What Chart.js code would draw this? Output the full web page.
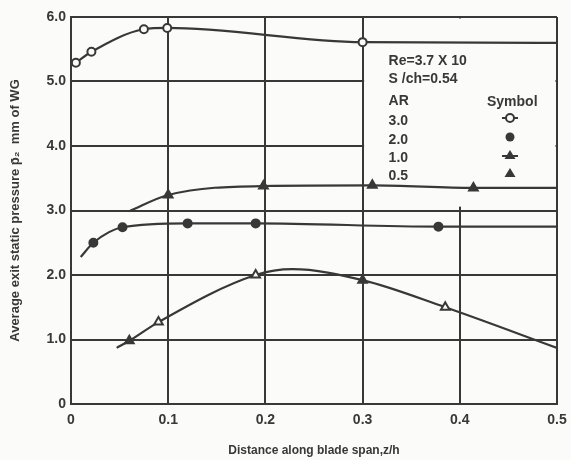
<!DOCTYPE html>
<html>
<head>
<meta charset="utf-8">
<script src="https://cdn.jsdelivr.net/npm/chart.js@4.4.0/dist/chart.umd.min.js"></script>
<style>
  html, body { margin: 0; padding: 0; background: #fbfbf9; }
  #wrap { width: 571px; height: 460px; }
</style>
</head>
<body>
<div id="wrap"><canvas id="chart" width="571" height="460"></canvas></div>
<script>
// z/h positions and pressure readings, per aspect ratio (AR)
// mark: 0 = curve point only, 1 = open symbol, 2 = filled symbol
const ar30X = [0.005, 0.021, 0.075, 0.099, 0.30, 0.50];
const ar30Y = [5.29, 5.46, 5.81, 5.83, 5.61, 5.60];
const ar30Mark = [1, 1, 1, 1, 1, 0];

const ar20X = [0.01, 0.023, 0.053, 0.12, 0.19, 0.378, 0.50];
const ar20Y = [2.28, 2.50, 2.74, 2.80, 2.80, 2.75, 2.75];
const ar20Mark = [0, 2, 2, 2, 2, 2, 0];

const ar10X = [0.06, 0.10, 0.198, 0.31, 0.414, 0.50];
const ar10Y = [2.99, 3.24, 3.38, 3.39, 3.35, 3.35];
const ar10Mark = [0, 2, 2, 2, 2, 0];

const ar05X = [0.047, 0.06, 0.09, 0.19, 0.228, 0.30, 0.385, 0.50];
const ar05Y = [0.87, 0.98, 1.27, 2.00, 2.09, 1.92, 1.50, 0.87];
const ar05Mark = [0, 2, 1, 1, 0, 2, 1, 0];

const xTicks = [0, 0.1, 0.2, 0.3, 0.4, 0.5];
const yTicks = [0, 1, 2, 3, 4, 5, 6];

const legendNotes = ['Re=3.7 X 10', 'S /ch=0.54'];
const legendAR = ['3.0', '2.0', '1.0', '0.5'];

const INK = '#383838';
const PAPER = '#fbfbf9';

function makeSeries(label, xs, ys, marks, style, radius) {
  return {
    label: label,
    data: xs.map((x, i) => ({ x: x, y: ys[i] })),
    borderColor: INK,
    borderWidth: 2.2,
    cubicInterpolationMode: 'monotone',
    pointStyle: style,
    pointRadius: ctx => marks[ctx.dataIndex] ? radius : 0,
    pointBackgroundColor: ctx => marks[ctx.dataIndex] === 1 ? PAPER : INK,
    pointBorderColor: INK,
    pointBorderWidth: 2,
    fill: false
  };
}

const font = { family: 'Liberation Sans, Arial, sans-serif', weight: 'bold', size: 14 };

// blank the upper-right cell for the key, then draw the key on top
const keyBox = {
  id: 'keyBox',
  beforeDatasetsDraw(chart) {
    const { ctx, scales: { x, y } } = chart;
    ctx.save();
    ctx.fillStyle = PAPER;
    const l = x.getPixelForValue(0.3) + 1.5, r = x.getPixelForValue(0.5) - 1.5;
    const t = y.getPixelForValue(6) + 1.5, b = y.getPixelForValue(3.06);
    ctx.fillRect(l, t, r - l, b - t);
    ctx.restore();
  },
  afterDatasetsDraw(chart) {
    const { ctx, scales: { x, y } } = chart;
    const left = x.getPixelForValue(0.3) + 26;
    const symX = x.getPixelForValue(0.5) - 47;
    ctx.save();
    ctx.fillStyle = INK;
    ctx.strokeStyle = INK;
    ctx.font = 'bold 14px "Liberation Sans", Arial, sans-serif';
    ctx.textBaseline = 'alphabetic';
    ctx.fillText(legendNotes[0], left, 65);
    ctx.fillText(legendNotes[1], left, 83);
    ctx.fillText('AR', left, 105);
    ctx.fillText('Symbol', symX - 23, 106);
    const rows = [125, 144, 162, 180];
    legendAR.forEach((t, i) => ctx.fillText(t, left, rows[i]));
    // symbols
    ctx.lineWidth = 2;
    const sy = [118, 137, 155, 173];
    // 3.0 open circle with ticks
    ctx.beginPath(); ctx.moveTo(symX - 8, sy[0]); ctx.lineTo(symX + 8, sy[0]); ctx.stroke();
    ctx.beginPath(); ctx.arc(symX, sy[0], 4, 0, Math.PI * 2);
    ctx.fillStyle = PAPER; ctx.fill(); ctx.stroke();
    ctx.fillStyle = INK;
    // 2.0 filled circle
    ctx.beginPath(); ctx.arc(symX, sy[1], 4.5, 0, Math.PI * 2); ctx.fill();
    // 1.0 filled triangle with ticks
    ctx.beginPath(); ctx.moveTo(symX - 8, sy[2] + 1); ctx.lineTo(symX + 8, sy[2] + 1); ctx.stroke();
    ctx.beginPath(); ctx.moveTo(symX, sy[2] - 5); ctx.lineTo(symX + 5.5, sy[2] + 4); ctx.lineTo(symX - 5.5, sy[2] + 4); ctx.closePath(); ctx.fill();
    // 0.5 filled triangle
    ctx.beginPath(); ctx.moveTo(symX, sy[3] - 5); ctx.lineTo(symX + 5.5, sy[3] + 4); ctx.lineTo(symX - 5.5, sy[3] + 4); ctx.closePath(); ctx.fill();
    ctx.restore();
  }
};

new Chart(document.getElementById('chart'), {
  type: 'line',
  data: {
    datasets: [
      makeSeries('AR 3.0', ar30X, ar30Y, ar30Mark, 'circle', 4),
      makeSeries('AR 2.0', ar20X, ar20Y, ar20Mark, 'circle', 4),
      makeSeries('AR 1.0', ar10X, ar10Y, ar10Mark, 'triangle', 5),
      makeSeries('AR 0.5', ar05X, ar05Y, ar05Mark, 'triangle', 5)
    ]
  },
  options: {
    responsive: false,
    animation: false,
    layout: { padding: { top: 17, right: 14, left: 0, bottom: 0 } },
    plugins: { legend: { display: false }, tooltip: { enabled: false } },
    scales: {
      x: {
        type: 'linear',
        min: 0, max: 0.5,
        afterBuildTicks: s => { s.ticks = xTicks.map(v => ({ value: v })); },
        afterFit: s => { s.height = 56; s.paddingLeft = 0; s.paddingRight = 0; },
        grid: { color: INK, lineWidth: 2, drawTicks: false },
        border: { color: INK, width: 2 },
        ticks: {
          color: INK, font: font, padding: 8, maxRotation: 0,
          callback: v => v === 0 ? '0' : v.toFixed(1)
        },
        title: {
          display: true, text: 'Distance along blade span,z/h',
          color: INK, font: { family: font.family, weight: 'bold', size: 12 },
          padding: { top: 2, bottom: 2 }
        }
      },
      y: {
        min: 0, max: 6,
        afterBuildTicks: s => { s.ticks = yTicks.map(v => ({ value: v })); },
        afterFit: s => { s.width = 71; s.paddingTop = 0; s.paddingBottom = 0; },
        grid: { color: INK, lineWidth: 2, drawTicks: false },
        border: { color: INK, width: 2 },
        ticks: {
          color: INK, font: font, padding: 5,
          callback: v => v === 0 ? '0' : v.toFixed(1)
        },
        title: {
          display: true, text: 'Average exit static pressure p\u0304\u2082  mm of WG',
          color: INK, font: { family: font.family, weight: 'bold', size: 13 },
          padding: { top: 8, bottom: 0 }
        }
      }
    }
  },
  plugins: [keyBox]
});
</script>
</body>
</html>
